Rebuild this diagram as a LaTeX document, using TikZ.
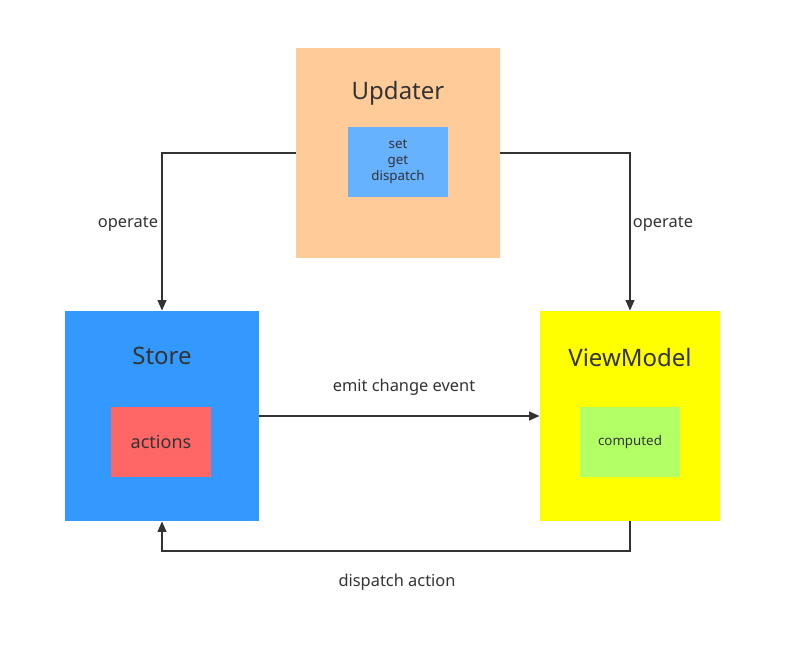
\documentclass[tikz,border=0pt]{standalone}
\usepackage{fontspec}
\setmainfont{Noto Sans}
\usetikzlibrary{arrows.meta}
\definecolor{peach}{RGB}{255,204,153}
\definecolor{skyblue}{RGB}{102,178,255}
\definecolor{storeblue}{RGB}{51,153,255}
\definecolor{salmon}{RGB}{255,102,102}
\definecolor{lime}{RGB}{179,255,102}
\definecolor{vmyellow}{RGB}{255,255,0}
\definecolor{ink}{RGB}{51,51,51}

\begin{document}
\begin{tikzpicture}[x=0.75pt,y=-0.75pt,
    block/.style={inner sep=0pt, minimum height=157.5pt},
    inbox/.style={inner sep=0pt, minimum width=75pt, minimum height=52.5pt, text=ink, font=\fontsize{10}{12}\selectfont, align=center},
    title/.style={text=ink, font=\fontsize{18}{22}\selectfont},
    lbl/.style={text=ink, font=\fontsize{12.3}{14}\selectfont},
    link/.style={draw=ink, line width=1.5pt, -{Triangle[length=8pt,width=6.5pt]}}]
      \useasboundingbox (0,0) rectangle (805,663);

      \node[block, fill=peach, minimum width=153pt] (updater) at (398,153) {};
      \node[block, fill=storeblue, minimum width=145.5pt] (store) at (162,416) {};
      \node[block, fill=vmyellow, minimum width=135pt] (viewmodel) at (630,416) {};

      \node[title] (updatertitle) at (398,93) {Updater};
      \node[title] (storetitle) at (162,356) {Store};
      \node[title] (viewmodeltitle) at (630,357) {ViewModel};

      \node[inbox, fill=skyblue] (methods) at (398,162) {set\\get\\dispatch};
      \node[inbox, fill=salmon, font=\fontsize{13.5}{15}\selectfont] (actions) at (161,442) {actions};
      \node[inbox, fill=lime] (computed) at (630,442) {computed};

      \draw[link] (updater.west) -| (store.north);
      \draw[link] (updater.east) -| (viewmodel.north);
      \draw[link] (store.east) -- (viewmodel.west);
      \draw[link] (viewmodel.south) -- ++(0,30) -| (store.south);

      \node[lbl] (operateleft) at (128,224) {operate};
      \node[lbl] (operateright) at (663,224) {operate};
      \node[lbl] (emit) at (404,387) {emit change event};
      \node[lbl] (dispatch) at (397,582) {dispatch action};
\end{tikzpicture}
\end{document}
